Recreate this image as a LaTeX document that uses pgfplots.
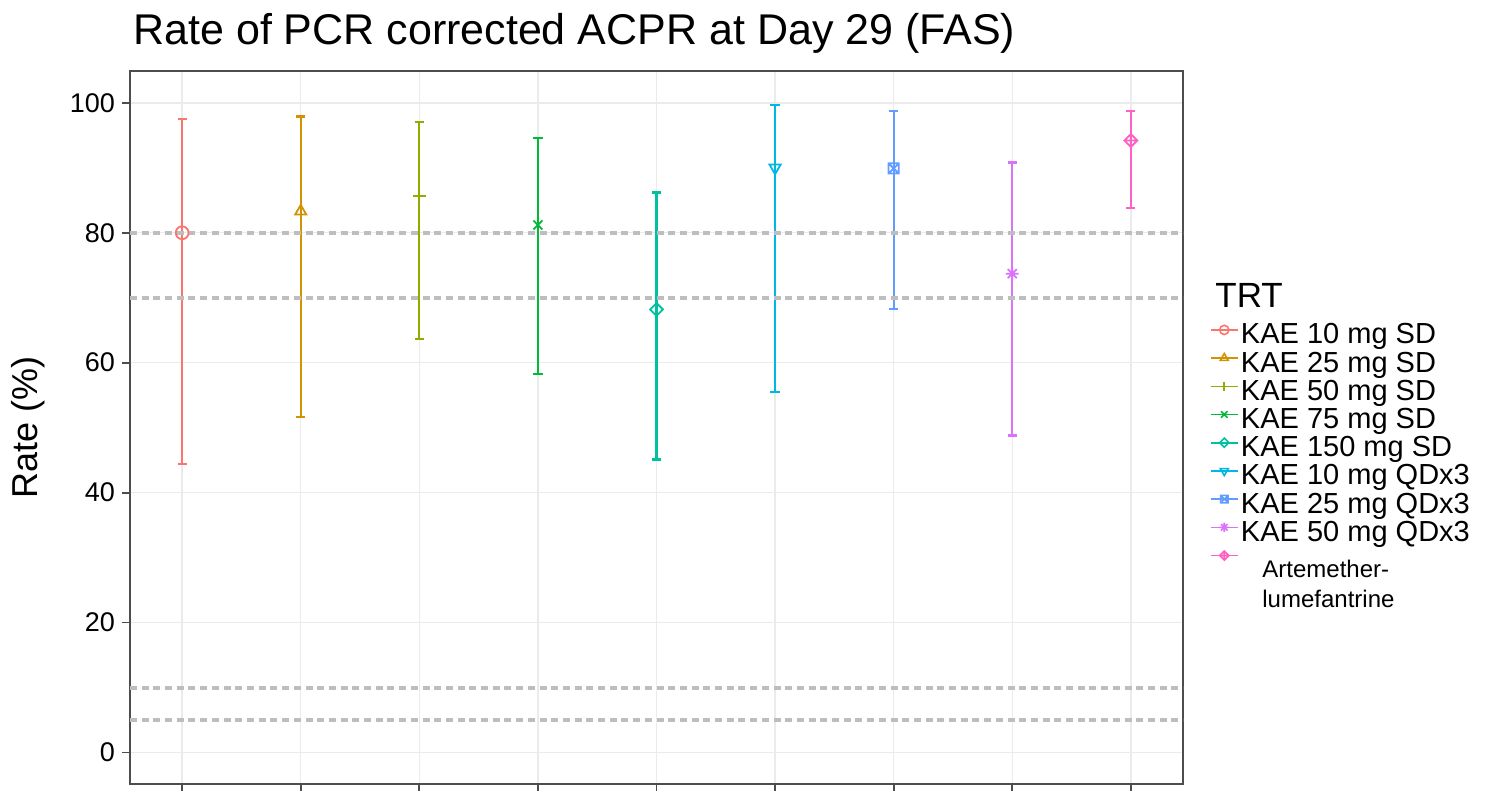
\documentclass[border=0pt]{standalone}
\usepackage{pgfplots}
\pgfplotsset{compat=1.18}
\usepackage{fontspec}
\setmainfont{Liberation Sans}
\usetikzlibrary{plotmarks}
\definecolor{c1}{HTML}{F8766D}
\definecolor{c2}{HTML}{D39200}
\definecolor{c3}{HTML}{93AA00}
\definecolor{c4}{HTML}{00BA38}
\definecolor{c5}{HTML}{00C19F}
\definecolor{c6}{HTML}{00B9E3}
\definecolor{c7}{HTML}{619CFF}
\definecolor{c8}{HTML}{DB72FB}
\definecolor{c9}{HTML}{FF61C3}
\definecolor{refgray}{HTML}{BEBEBE}
\definecolor{gridgray}{HTML}{EBEBEB}
\definecolor{axgray}{HTML}{4D4D4D}
\pgfdeclareplotmark{sqcross}{%
 \pgfpathrectangle{\pgfqpoint{-\pgfplotmarksize}{-\pgfplotmarksize}}{\pgfqpoint{2\pgfplotmarksize}{2\pgfplotmarksize}}%
 \pgfpathmoveto{\pgfqpoint{-\pgfplotmarksize}{-\pgfplotmarksize}}\pgfpathlineto{\pgfqpoint{\pgfplotmarksize}{\pgfplotmarksize}}%
 \pgfpathmoveto{\pgfqpoint{-\pgfplotmarksize}{\pgfplotmarksize}}\pgfpathlineto{\pgfqpoint{\pgfplotmarksize}{-\pgfplotmarksize}}%
 \pgfusepathqstroke}
\pgfdeclareplotmark{ast8}{%
 \pgfpathmoveto{\pgfqpoint{-\pgfplotmarksize}{0pt}}\pgfpathlineto{\pgfqpoint{\pgfplotmarksize}{0pt}}%
 \pgfpathmoveto{\pgfqpoint{0pt}{-\pgfplotmarksize}}\pgfpathlineto{\pgfqpoint{0pt}{\pgfplotmarksize}}%
 \pgfpathmoveto{\pgfqpoint{-0.707\pgfplotmarksize}{-0.707\pgfplotmarksize}}\pgfpathlineto{\pgfqpoint{0.707\pgfplotmarksize}{0.707\pgfplotmarksize}}%
 \pgfpathmoveto{\pgfqpoint{-0.707\pgfplotmarksize}{0.707\pgfplotmarksize}}\pgfpathlineto{\pgfqpoint{0.707\pgfplotmarksize}{-0.707\pgfplotmarksize}}%
 \pgfusepathqstroke}
\pgfdeclareplotmark{rdiamond}{%
 \pgfpathmoveto{\pgfqpoint{0pt}{\pgfplotmarksize}}\pgfpathlineto{\pgfqpoint{\pgfplotmarksize}{0pt}}%
 \pgfpathlineto{\pgfqpoint{0pt}{-\pgfplotmarksize}}\pgfpathlineto{\pgfqpoint{-\pgfplotmarksize}{0pt}}\pgfpathclose
 \pgfusepathqstroke}
\pgfdeclareplotmark{dplus}{%
 \pgfpathmoveto{\pgfqpoint{0pt}{\pgfplotmarksize}}\pgfpathlineto{\pgfqpoint{\pgfplotmarksize}{0pt}}%
 \pgfpathlineto{\pgfqpoint{0pt}{-\pgfplotmarksize}}\pgfpathlineto{\pgfqpoint{-\pgfplotmarksize}{0pt}}\pgfpathclose
 \pgfpathmoveto{\pgfqpoint{-\pgfplotmarksize}{0pt}}\pgfpathlineto{\pgfqpoint{\pgfplotmarksize}{0pt}}%
 \pgfpathmoveto{\pgfqpoint{0pt}{-\pgfplotmarksize}}\pgfpathlineto{\pgfqpoint{0pt}{\pgfplotmarksize}}%
 \pgfusepathqstroke}
\pgfplotsset{
  ebar/.style={line width=0.9pt, mark size=3.2pt,
    error bars/y dir=both, error bars/y explicit,
    error bars/error bar style={line width=1.1pt},
    error bars/error mark options={rotate=90, mark size=2.3pt, line width=1.1pt}},
  refline/.style={forget plot, refgray, line width=2pt, dash pattern=on 3.5pt off 2.35pt, no marks},
}
\begin{document}
\begin{tikzpicture}
\path[use as bounding box] (-65pt,-3.5pt) rectangle (679pt,392pt);
\begin{axis}[
  scale only axis,
  width=526.5pt, height=356.5pt,
  xmin=0.56, xmax=9.44,
  ymin=-4.85, ymax=104.9,
  xtick={1,2,3,4,5,6,7,8,9},
  xticklabels={},
  ytick={0,20,40,60,80,100},
  xtick pos=bottom, ytick pos=left,
  tick align=outside,
  major tick length=4pt,
  tick style={axgray, line width=0.9pt},
  axis line style={axgray, line width=1pt},
  grid=major,
  major grid style={gridgray, line width=0.7pt},
  /pgf/number format/assume math mode=true,
  yticklabel style={font=\fontsize{13.5}{16}\selectfont, text=black},
  ylabel={Rate (\%)},
  ylabel style={font=\fontsize{18}{21}\selectfont, at={(axis description cs:-0.0969,0.5)}, anchor=center},
  legend entries={KAE 10 mg SD, KAE 25 mg SD, KAE 50 mg SD, KAE 75 mg SD, KAE 150 mg SD, KAE 10 mg QDx3, KAE 25 mg QDx3, KAE 50 mg QDx3, {\mbox{}}},
  legend cell align=left,
  legend style={draw=none, fill=none, at={(axis description cs:1.0256,0.6468)}, anchor=north west,
    inner sep=0pt, outer sep=0pt, row sep=0pt,
    font=\fontsize{14.5}{16}\selectfont,
    nodes={inner xsep=1.2pt, inner ysep=0.55pt, text height=10pt, text depth=3pt}},
  legend image code/.code={\draw[mark repeat=2,mark phase=2,#1, mark size=2.3pt, line width=0.8pt] plot coordinates {(0pt,3.5pt) (6.75pt,3.5pt) (13.5pt,3.5pt)};},
]
\addplot[c1, ebar, mark=o] coordinates {(1,80.0) += (0,17.5) -= (0,35.6)};
\addplot[c2, ebar, mark=triangle] coordinates {(2,83.3) += (0,14.6) -= (0,31.7)};
\addplot[c3, ebar, mark=+] coordinates {(3,85.7) += (0,11.3) -= (0,22.1)};
\addplot[c4, ebar, mark=x] coordinates {(4,81.2) += (0,13.4) -= (0,23.0)};
\addplot[c5, ebar, mark=rdiamond] coordinates {(5,68.2) += (0,18.0) -= (0,23.1)};
\addplot[c6, ebar, mark=triangle, mark options={rotate=180}] coordinates {(6,90.0) += (0,9.7) -= (0,34.5)};
\addplot[c7, ebar, mark=sqcross, mark options={scale=0.8}] coordinates {(7,89.9) += (0,8.9) -= (0,21.6)};
\addplot[c8, ebar, mark=ast8] coordinates {(8,73.7) += (0,17.1) -= (0,24.9)};
\addplot[c9, ebar, mark=dplus] coordinates {(9,94.2) += (0,4.6) -= (0,10.4)};
\addplot[refline] coordinates {(0.56,80) (9.44,80)};
\addplot[refline] coordinates {(0.56,70) (9.44,70)};
\addplot[refline] coordinates {(0.56,10) (9.44,10)};
\addplot[refline] coordinates {(0.56,5) (9.44,5)};
\end{axis}
\node[anchor=base west, inner sep=0pt, font=\fontsize{21.5}{25}\selectfont] at (1.5pt,369.5pt) {Rate of PCR corrected ACPR at Day 29 (FAS)};
\node[anchor=base west, inner sep=0pt, font=\fontsize{17.5}{20}\selectfont] at (542.5pt,238pt) {TRT};
\node[anchor=base west, inner sep=0pt, font=\fontsize{12}{15}\selectfont] at (566pt,103pt) {Artemether-};
\node[anchor=base west, inner sep=0pt, font=\fontsize{12}{15}\selectfont] at (566pt,88pt) {lumefantrine};
\end{tikzpicture}
\end{document}
